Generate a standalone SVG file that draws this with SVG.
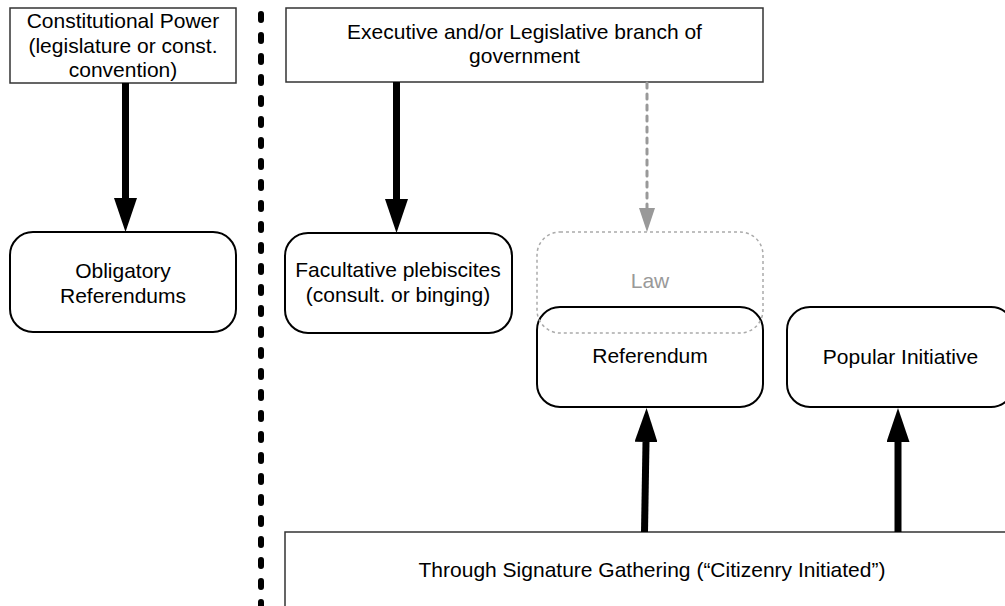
<svg xmlns="http://www.w3.org/2000/svg" width="1005" height="606" viewBox="0 0 1005 606">
<style>
text{font-family:"Liberation Sans",Arial,sans-serif;font-size:21px;fill:#000;text-anchor:middle}
.box{fill:#fff;stroke:#333;stroke-width:1.5}
.rnd{fill:#fff;stroke:#000;stroke-width:2}
.law{fill:none;stroke:#aaa;stroke-width:1.5;stroke-dasharray:3 3}
.arr{stroke:#000;stroke-width:7;fill:none}
.garr{stroke:#999;stroke-width:3;fill:none;stroke-dasharray:5 6;stroke-linecap:round}
.div{stroke:#000;stroke-width:6;stroke-dasharray:6 15;stroke-linecap:round;fill:none}
</style>
<defs>
<marker id="ah" viewBox="0 0 34 23" refX="0" refY="11.5" markerWidth="34" markerHeight="23" orient="auto" markerUnits="userSpaceOnUse"><path d="M0,0 L34,11.5 L0,23 Z" fill="#000"/></marker>
<marker id="gah" viewBox="0 0 24 16" refX="0" refY="8" markerWidth="24" markerHeight="16" orient="auto" markerUnits="userSpaceOnUse"><path d="M0,0 L24,8 L0,16 Z" fill="#999"/></marker>
</defs>
<rect width="1005" height="606" fill="#fff"/>
<line class="div" x1="261" y1="14" x2="261" y2="610"/>
<g id="constitutional-power"><rect class="box" x="10" y="8" width="226" height="75"/><text x="123" y="28">Constitutional Power</text><text x="123" y="52.5">(legislature or const.</text><text x="123" y="77">convention)</text></g>
<g id="executive"><rect class="box" x="286" y="8" width="477" height="74"/><text x="524.5" y="39">Executive and/or Legislative branch of</text><text x="524.5" y="63">government</text></g>
<g id="obligatory"><rect class="rnd" x="10" y="232" width="226" height="100" rx="23"/><text x="123" y="278">Obligatory</text><text x="123" y="303">Referendums</text></g>
<g id="facultative"><rect class="rnd" x="285" y="233" width="227" height="100" rx="23"/><text x="398" y="277">Facultative plebiscites</text><text x="398" y="302">(consult. or binging)</text></g>
<g id="referendum"><rect class="rnd" x="537" y="307" width="226" height="100" rx="23"/><text x="650" y="363">Referendum</text></g>
<g id="law"><rect class="law" x="537" y="232" width="226" height="101" rx="23"/><text x="650" y="288" style="fill:#999">Law</text></g>
<g id="popular-initiative"><rect class="rnd" x="787" y="307" width="227" height="100" rx="23"/><text x="900.5" y="364">Popular Initiative</text></g>
<g id="signature-gathering"><rect class="box" x="285" y="532" width="734" height="90"/><text x="652" y="577">Through Signature Gathering (“Citizenry Initiated”)</text></g>
<g id="connectors">
<line class="arr" x1="125.5" y1="83" x2="125.5" y2="198" marker-end="url(#ah)"/>
<line class="arr" x1="396.5" y1="82" x2="396.5" y2="199" marker-end="url(#ah)"/>
<line class="garr" x1="647" y1="83" x2="647" y2="208" marker-end="url(#gah)"/>
<line class="arr" x1="644.5" y1="532" x2="646" y2="442" marker-end="url(#ah)"/>
<line class="arr" x1="898" y1="532" x2="898" y2="442" marker-end="url(#ah)"/>
</g>
</svg>
